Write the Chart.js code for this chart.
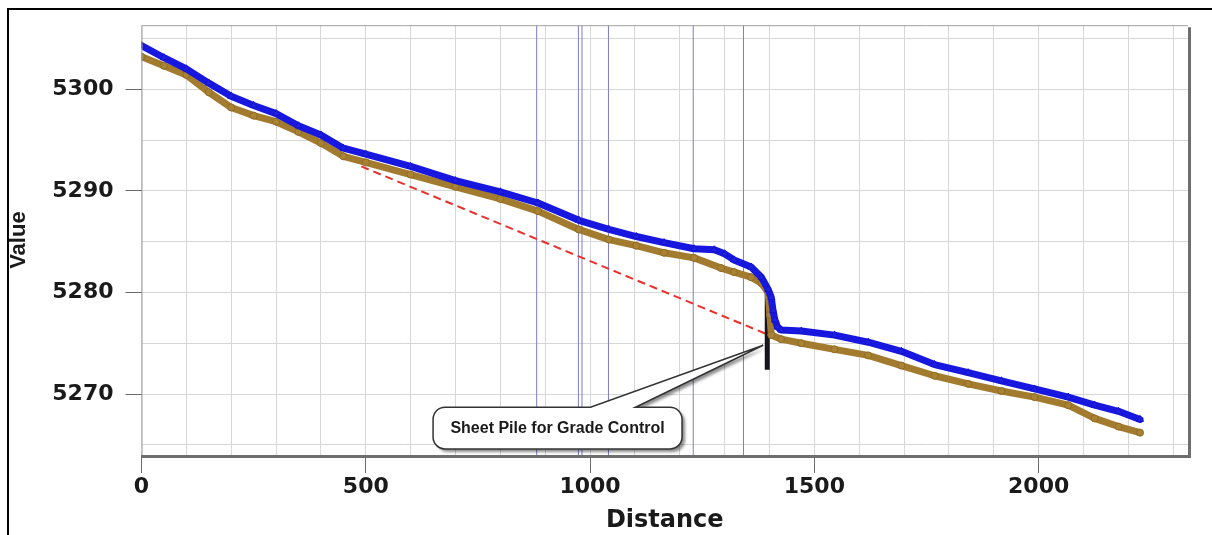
<!DOCTYPE html>
<html>
<head>
<meta charset="utf-8">
<script src="https://cdn.jsdelivr.net/npm/chart.js@4"></script>
<style>
    html, body { margin: 0; padding: 0; background: #fff; }
    #wrap { width: 1212px; height: 535px; position: relative; }
</style>
</head>
<body>
<div id="wrap"><canvas id="perfil" width="1212" height="535"></canvas></div>
<script>
// upper profile (blue triangles)
const upperDist = [0, 50, 100, 150, 200, 250, 300, 350, 400, 450, 500, 600, 700, 800, 884, 975, 1042, 1103, 1165, 1232,
    1277, 1300, 1321, 1359, 1382, 1397, 1404, 1408, 1412, 1418, 1426, 1471, 1545, 1620, 1694, 1768, 1843, 1917, 1991, 2066,
    2125, 2178, 2226];
const upperElev = [5304.3, 5303.1, 5302.0, 5300.6, 5299.3, 5298.4, 5297.6, 5296.4, 5295.5, 5294.2, 5293.6, 5292.4, 5291.0, 5289.9, 5288.8, 5287.1, 5286.2, 5285.5, 5284.9, 5284.3,
    5284.2, 5283.8, 5283.2, 5282.5, 5281.5, 5280.3, 5279.5, 5278.2, 5277.3, 5276.6, 5276.3, 5276.2, 5275.8, 5275.1, 5274.2, 5272.9, 5272.1, 5271.3, 5270.5, 5269.7,
    5268.9, 5268.3, 5267.5];

// lower profile (brown circles)
const lowerDist = [0, 50, 100, 150, 200, 250, 300, 350, 400, 450, 500, 600, 700, 800, 884, 975, 1042, 1103, 1165, 1232,
    1292, 1321, 1359, 1382, 1397, 1401, 1404, 1426, 1471, 1545, 1620, 1694, 1768, 1843, 1917, 1991, 2066, 2125, 2178, 2226];
const lowerElev = [5303.2, 5302.3, 5301.4, 5299.7, 5298.2, 5297.4, 5296.8, 5295.8, 5294.7, 5293.4, 5292.8, 5291.6, 5290.4, 5289.2, 5288.0, 5286.2, 5285.2, 5284.6, 5283.9, 5283.4,
    5282.4, 5282.0, 5281.5, 5280.9, 5280.0, 5277.8, 5275.8, 5275.4, 5275.0, 5274.4, 5273.8, 5272.8, 5271.8, 5271.0, 5270.3, 5269.7, 5268.9, 5267.6, 5266.8, 5266.2];

// red dashed grade line
const trendDist = [490, 1410];
const trendElev = [5292.4, 5275.6];

// thin blue station lines
const stationDist = [881, 974, 982, 1041, 1230, 1342];

// sheet pile
const pileDist = [1395, 1395];
const pileElev = [5279.8, 5272.4];

// axes
const xMin = 0, xMax = 2333;
const yMin = 5264, yMax = 5306.3;
const xGrid = [0, 100, 200, 300, 400, 500, 600, 700, 800, 900, 1000, 1100, 1200, 1300, 1400, 1500, 1600, 1700, 1800, 1900, 2000, 2100, 2200, 2300];
const yGrid = [5265, 5270, 5275, 5280, 5285, 5290, 5295, 5300, 5305];
const xLabels = [0, 500, 1000, 1500, 2000];
const yLabels = [5270, 5280, 5290, 5300];

// callout
const calloutText = 'Sheet Pile for Grade Control';
const calloutBox = { x0: 650, x1: 1205, yTop: 5268.7, yBot: 5264.6 };
const calloutBase = [1001, 1101];
const calloutTip = { x: 1386, y: 5274.8 };

function pares(xs, ys) {
    return xs.map((x, i) => ({ x: x, y: ys[i] }));
}

const datasets = [];
stationDist.forEach(d => {
    datasets.push({
        data: [{ x: d, y: yMin }, { x: d, y: yMax }],
        borderColor: '#7d7dc6',
        borderWidth: 1,
        pointRadius: 0,
        order: 5
    });
});
datasets.push({
    data: pares(trendDist, trendElev),
    borderColor: '#e8302c',
    borderWidth: 2,
    borderDash: [8, 5],
    pointRadius: 0,
    order: 4
});
datasets.push({
    data: pares(pileDist, pileElev),
    borderColor: '#15151c',
    borderWidth: 5,
    pointRadius: 0,
    order: 3
});
datasets.push({
    data: pares(lowerDist, lowerElev),
    borderColor: '#a27b2e',
    borderWidth: 7,
    borderJoinStyle: 'round',
    borderCapStyle: 'round',
    pointStyle: 'circle',
    pointRadius: 3.5,
    pointBackgroundColor: '#a98232',
    pointBorderColor: '#8f6c28',
    pointBorderWidth: 1,
    tension: 0,
    order: 2
});
datasets.push({
    data: pares(upperDist, upperElev),
    borderColor: '#1717e0',
    borderWidth: 7,
    borderJoinStyle: 'round',
    borderCapStyle: 'round',
    pointStyle: 'triangle',
    pointRadius: 4,
    pointBackgroundColor: '#1f1fe6',
    pointBorderColor: '#1414c8',
    pointBorderWidth: 1,
    tension: 0,
    order: 1
});

// outer frame, plot border and callout
const moldura = {
    id: 'moldura',
    beforeDraw(chart) {
        const ctx = chart.ctx;
        ctx.save();
        ctx.fillStyle = '#fff';
        ctx.fillRect(0, 0, chart.width, chart.height);
        ctx.strokeStyle = '#000';
        ctx.lineWidth = 2;
        ctx.beginPath();
        ctx.moveTo(8, chart.height);
        ctx.lineTo(8, 9);
        ctx.lineTo(chart.width, 9);
        ctx.stroke();
        ctx.restore();
    },
    afterDatasetsDraw(chart) {
        const ctx = chart.ctx;
        const { left, top, right, bottom } = chart.chartArea;
        ctx.save();
        ctx.strokeStyle = '#a0a0a0';
        ctx.lineWidth = 1;
        ctx.beginPath();
        ctx.moveTo(left + 0.5, bottom);
        ctx.lineTo(left + 0.5, top + 0.5);
        ctx.lineTo(right, top + 0.5);
        ctx.stroke();
        ctx.strokeStyle = '#6e6e6e';
        ctx.lineWidth = 3;
        ctx.beginPath();
        ctx.moveTo(left, bottom + 1.5);
        ctx.lineTo(right + 1.5, bottom + 1.5);
        ctx.lineTo(right + 1.5, top + 2);
        ctx.stroke();
        ctx.restore();
    },
    afterDraw(chart) {
        const ctx = chart.ctx;
        const xs = chart.scales.x, ys = chart.scales.y;
        const L = xs.getPixelForValue(calloutBox.x0);
        const R = xs.getPixelForValue(calloutBox.x1);
        const T = ys.getPixelForValue(calloutBox.yTop);
        const B = ys.getPixelForValue(calloutBox.yBot);
        const b0 = xs.getPixelForValue(calloutBase[0]);
        const b1 = xs.getPixelForValue(calloutBase[1]);
        const tx = xs.getPixelForValue(calloutTip.x);
        const ty = ys.getPixelForValue(calloutTip.y);
        const r = 12;
        ctx.save();
        ctx.beginPath();
        ctx.moveTo(L + r, T);
        ctx.lineTo(b0, T);
        ctx.lineTo(tx, ty);
        ctx.lineTo(b1, T);
        ctx.lineTo(R - r, T);
        ctx.arcTo(R, T, R, T + r, r);
        ctx.lineTo(R, B - r);
        ctx.arcTo(R, B, R - r, B, r);
        ctx.lineTo(L + r, B);
        ctx.arcTo(L, B, L, B - r, r);
        ctx.lineTo(L, T + r);
        ctx.arcTo(L, T, L + r, T, r);
        ctx.closePath();
        ctx.shadowColor = 'rgba(0,0,0,0.45)';
        ctx.shadowOffsetX = 3;
        ctx.shadowOffsetY = 3;
        ctx.shadowBlur = 3;
        ctx.fillStyle = '#fff';
        ctx.fill();
        ctx.shadowColor = 'rgba(0,0,0,0)';
        ctx.lineWidth = 1.5;
        ctx.strokeStyle = '#333';
        ctx.stroke();
        ctx.fillStyle = '#1a1a1a';
        ctx.font = 'bold 16px "Liberation Sans", Arial, sans-serif';
        ctx.textAlign = 'center';
        ctx.textBaseline = 'middle';
        ctx.fillText(calloutText, (L + R) / 2, (T + B) / 2 + 1);
        ctx.restore();
    }
};

const fonteEixo = { family: '"DejaVu Sans", sans-serif', weight: 'bold', size: 22 };

new Chart(document.getElementById('perfil').getContext('2d'), {
    type: 'line',
    data: { datasets: datasets },
    options: {
        responsive: false,
        animation: false,
        devicePixelRatio: 1,
        layout: { padding: { left: 6, top: 18, right: 24, bottom: 0 } },
        plugins: {
            legend: { display: false },
            tooltip: { enabled: false }
        },
        scales: {
            x: {
                type: 'linear',
                min: xMin,
                max: xMax,
                afterBuildTicks: s => { s.ticks = xGrid.map(v => ({ value: v })); },
                afterFit: s => { s.height = 80; },
                border: { display: false },
                grid: {
                    color: '#d6d6d6',
                    lineWidth: 1,
                    tickLength: 18,
                    tickColor: c => (c.tick && xLabels.includes(c.tick.value)) ? '#6a6a6a' : 'rgba(0,0,0,0)'
                },
                ticks: {
                    autoSkip: false,
                    maxRotation: 0,
                    padding: 1,
                    color: '#1a1a1a',
                    font: fonteEixo,
                    callback: v => xLabels.includes(v) ? String(v) : ''
                },
                title: {
                    display: true,
                    text: 'Distance',
                    color: '#1a1a1a',
                    font: { family: '"DejaVu Sans", sans-serif', weight: 'bold', size: 24 },
                    padding: { top: 0, bottom: 0 }
                }
            },
            y: {
                type: 'linear',
                min: yMin,
                max: yMax,
                afterBuildTicks: s => { s.ticks = yGrid.map(v => ({ value: v })); },
                afterFit: s => { s.width = 135.5; },
                border: { display: false },
                grid: {
                    color: '#d6d6d6',
                    lineWidth: 1,
                    tickLength: 16,
                    tickColor: c => (c.tick && yLabels.includes(c.tick.value)) ? '#6a6a6a' : 'rgba(0,0,0,0)'
                },
                ticks: {
                    autoSkip: false,
                    padding: 12,
                    color: '#1a1a1a',
                    font: fonteEixo,
                    callback: v => yLabels.includes(v) ? String(v) : ''
                },
                title: {
                    display: true,
                    text: 'Value',
                    color: '#1a1a1a',
                    font: { family: '"Liberation Sans", Arial, sans-serif', weight: 'bold', size: 22 },
                    padding: { top: 0, bottom: 0 }
                }
            }
        }
    },
    plugins: [moldura]
});
</script>
</body>
</html>
